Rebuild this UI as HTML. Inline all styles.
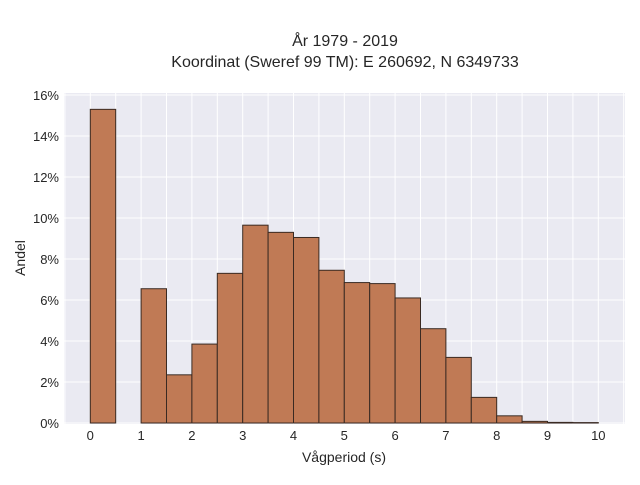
<!DOCTYPE html>
<html><head><meta charset="utf-8"><style>
body{margin:0;background:#fff;}
svg text{font-family:"Liberation Sans",sans-serif;fill:#262626;}
</style></head><body>
<svg id="chart" width="640" height="480" viewBox="0 0 640 480" xmlns="http://www.w3.org/2000/svg">
<text x="345" y="46" text-anchor="middle" font-size="16">År 1979 - 2019</text>
<text x="345" y="67" text-anchor="middle" font-size="16">Koordinat (Sweref 99 TM): E 260692, N 6349733</text>
<rect x="64" y="93" width="561" height="331" fill="#eaeaf2"/>
<g id="grid"></g>
<g id="bars"></g>
<g id="xticks"></g>
<g id="yticks"></g>
<text x="344" y="462" text-anchor="middle" font-size="14">Vågperiod (s)</text>
<text transform="translate(25,258) rotate(-90)" text-anchor="middle" font-size="14">Andel</text>
</svg>
<script>
const binStarts=[0,0.5,1,1.5,2,2.5,3,3.5,4,4.5,5,5.5,6,6.5,7,7.5,8,8.5,9,9.5];
const shares=[15.3,0,6.55,2.35,3.85,7.3,9.65,9.3,9.05,7.45,6.85,6.8,6.1,4.6,3.2,1.25,0.35,0.08,0.03,0.02];
const binWidth=0.5;
const xTicks=[0,1,2,3,4,5,6,7,8,9,10];
const yTicks=[0,2,4,6,8,10,12,14,16];
const NS="http://www.w3.org/2000/svg";
const x=v=>90.3+v*50.8;
const y=v=>423+-v*20.5;
function mk(tag,attrs,parent){const e=document.createElementNS(NS,tag);for(const k in attrs)e.setAttribute(k,attrs[k]);document.getElementById(parent).appendChild(e);return e;}
for(let v=-0.5;v<=10.5;v+=0.5){const l=mk('line',{x1:x(v),x2:x(v),y1:93,y2:424,stroke:'#fff','stroke-width':1},'grid');

}
yTicks.forEach(t=>{const l=mk('line',{x1:64,x2:625,y1:y(t),y2:y(t),stroke:'#fff','stroke-width':1},'grid');


const tx=mk('text',{x:59,y:y(t)+5,'text-anchor':'end','font-size':13},'yticks');tx.textContent=t+'%';

});
xTicks.forEach(t=>{const tx=mk('text',{x:x(t),y:440,'text-anchor':'middle','font-size':13},'xticks');tx.textContent=t;

});
binStarts.forEach((b,i)=>{if(shares[i]<=0)return;const r=mk('rect',{x:x(b),y:y(shares[i]),width:x(b+binWidth)-x(b),height:y(0)-y(shares[i]),fill:'#c07a55','stroke':'#3a2a22','stroke-width':1},'bars');

});
</script>
</body></html>
